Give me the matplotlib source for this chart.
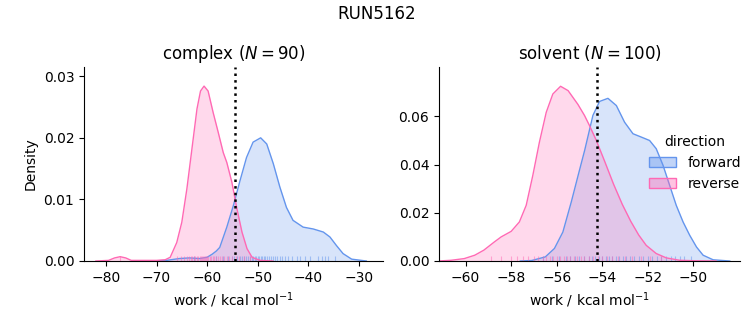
import matplotlib
matplotlib.use("Agg")
import matplotlib.pyplot as plt
from matplotlib.patches import Patch
import numpy as np

# ---------------- data ----------------
directions = ["forward", "reverse"]
colors = {"forward": "#6495ED", "reverse": "#FF69B4"}

# complex: KDE curves (work, density)
complex_fwd_x = [-71, -68, -65.5, -63.5, -61.5, -60, -59, -58.2, -57.5, -56.1, -54.8, -53.5,
                 -52.2, -50.9, -49.4, -48.2, -46.9, -45.6, -44.3, -43.0, -41.0, -39.0, -37.0,
                 -35.7, -34.4, -33.1, -31.4, -28.5]
complex_fwd_d = [0, 0.0001, 0.0004, 0.0005, 0.0004, 0.0006, 0.0011, 0.0016, 0.0022, 0.0055,
                 0.0090, 0.0130, 0.0168, 0.0193, 0.0200, 0.0190, 0.0158, 0.0120, 0.0087, 0.0066,
                 0.0055, 0.0052, 0.0047, 0.0039, 0.0025, 0.0012, 0.0003, 0]
complex_rev_x = [-82.0, -79.5, -78.3, -77.2, -76.1, -75.0, -73.0, -70.0, -68.3, -67.3, -66.0,
                 -65.0, -64.0, -63.0, -62.0, -61.3, -60.6, -59.8, -58.8, -57.8, -56.8, -56.1,
                 -55.1, -54.1, -53.1, -52.1, -51.1, -49.5, -47.0]
complex_rev_d = [0, 0.0001, 0.0005, 0.0007, 0.0005, 0.0001, 0.0001, 0.0001, 0.0002, 0.0006,
                 0.0030, 0.0063, 0.0117, 0.0182, 0.0247, 0.0276, 0.0284, 0.0276, 0.0241, 0.0209,
                 0.0176, 0.0160, 0.0128, 0.0085, 0.0047, 0.0020, 0.0006, 0.0001, 0]

# solvent: KDE curves
solvent_fwd_x = [-57.6, -57.1, -56.5, -56.1, -55.73, -55.36, -55.06, -54.77, -54.41, -54.12,
                 -53.75, -53.38, -53.02, -52.65, -52.28, -51.92, -51.63, -51.33, -51.04, -50.75,
                 -50.45, -50.16, -49.86, -49.57, -49.13, -48.4]
solvent_fwd_d = [0, 0.0002, 0.0017, 0.0052, 0.0120, 0.0245, 0.0355, 0.0460, 0.0604, 0.0662,
                 0.0675, 0.0645, 0.0576, 0.0528, 0.0514, 0.0500, 0.0466, 0.0397, 0.0314, 0.0231,
                 0.0162, 0.0107, 0.0058, 0.0024, 0.0005, 0]
solvent_rev_x = [-61.2, -60.64, -60.06, -59.6, -59.2, -58.74, -58.44, -58.0, -57.64, -57.34,
                 -57.05, -56.76, -56.46, -56.17, -55.83, -55.5, -55.07, -54.78, -54.55, -54.26,
                 -53.9, -53.5, -53.12, -52.75, -52.4, -52.07, -51.63, -51.19, -50.6, -49.9, -49.0]
solvent_rev_d = [0, 0.0003, 0.0010, 0.0024, 0.0045, 0.0079, 0.0100, 0.0123, 0.0162, 0.0231,
                 0.0355, 0.0493, 0.0617, 0.0693, 0.0725, 0.0707, 0.0650, 0.0604, 0.0560, 0.0500,
                 0.0415, 0.0318, 0.0235, 0.0165, 0.0108, 0.0065, 0.0031, 0.0013, 0.0003, 0.0001, 0]

# rug samples
complex_fwd_rug = [-62.5, -58.3, -56.9, -55.8, -55.1, -54.6, -54.0, -53.5, -53.1, -52.7, -52.3,
                   -51.9, -51.5, -51.2, -50.9, -50.6, -50.3, -50.0, -49.7, -49.4, -49.1, -48.8,
                   -48.5, -48.1, -47.8, -47.4, -47.0, -46.6, -46.1, -45.6, -45.2, -44.5, -43.9,
                   -43.2, -42.2, -41.6, -40.6, -39.6, -38.0, -37.3, -36.6, -36.0, -34.7]
complex_rev_rug = [-77.2, -65.9, -65.1, -64.5, -64.0, -63.6, -63.2, -62.9, -62.6, -62.3, -62.0,
                   -61.8, -61.5, -61.3, -61.0, -60.8, -60.6, -60.4, -60.2, -60.0, -59.8, -59.5,
                   -59.2, -58.9, -58.6, -58.2, -57.8, -57.4, -57.0, -56.6, -56.1, -55.6, -55.0,
                   -54.3, -53.6, -52.7, -51.6]
solvent_fwd_rug = [-56.6, -56.2, -55.9, -55.6, -55.4, -55.2, -55.0, -54.8, -54.6, -54.45, -54.3,
                   -54.15, -54.0, -53.85, -53.7, -53.55, -53.4, -53.25, -53.1, -52.95, -52.8,
                   -52.6, -52.4, -52.2, -52.0, -51.8, -51.6, -51.4, -51.2, -51.0, -50.8, -50.6,
                   -50.4, -50.1]
solvent_rev_rug = [-58.87, -58.43, -57.99, -57.74, -57.48, -57.26, -57.0, -56.8, -56.6, -56.45,
                   -56.3, -56.15, -56.0, -55.85, -55.7, -55.55, -55.4, -55.25, -55.1, -54.95,
                   -54.8, -54.6, -54.4, -54.2, -54.0, -53.8, -53.55, -53.3, -53.0, -52.7, -52.3,
                   -51.9, -51.4]

complex_estimate = -54.45
solvent_estimate = -54.25
complex_n = 90
solvent_n = 100
run_name = "RUN5162"

# ---------------- plotting ----------------
fig = plt.figure(figsize=(7.53, 3.25), dpi=100)
ax1 = fig.add_axes([84 / 753, 64 / 325, 299 / 753, 194 / 325])
ax2 = fig.add_axes([439 / 753, 64 / 325, 301 / 753, 194 / 325])

panels = [
    (ax1, f"complex ($N = {complex_n}$)",
     {"forward": (complex_fwd_x, complex_fwd_d, complex_fwd_rug),
      "reverse": (complex_rev_x, complex_rev_d, complex_rev_rug)},
     complex_estimate, (-84.35, -25.2), (0, 0.0315), np.arange(-80, -29, 10), [0, 0.01, 0.02, 0.03]),
    (ax2, f"solvent ($N = {solvent_n}$)",
     {"forward": (solvent_fwd_x, solvent_fwd_d, solvent_fwd_rug),
      "reverse": (solvent_rev_x, solvent_rev_d, solvent_rev_rug)},
     solvent_estimate, (-61.17, -47.95), (0, 0.0805), np.arange(-60, -49, 2), [0, 0.02, 0.04, 0.06]),
]

for ax, title, curves, est, xlim, ylim, xt, yt in panels:
    for d in directions:
        x, y, rug = curves[d]
        c = colors[d]
        ax.fill_between(x, y, 0, color=c, alpha=0.25, linewidth=0)
        ax.plot(x, y, color=c, lw=1.0, solid_joinstyle="round")
        ax.vlines(rug, 0, 0.025, transform=ax.get_xaxis_transform(), color=c, alpha=0.5, lw=0.8)
    ax.axvline(est, color="black", ls=":", lw=1.8)
    ax.set_xlim(*xlim)
    ax.set_ylim(*ylim)
    ax.set_xticks(xt)
    ax.set_yticks(yt)
    ax.set_title(title, fontsize=12)
    ax.set_xlabel("work / kcal mol$^{-1}$", fontsize=10)
    ax.spines["top"].set_visible(False)
    ax.spines["right"].set_visible(False)
    ax.tick_params(labelsize=10)

ax1.set_ylabel("Density", fontsize=10)

handles = [Patch(facecolor=matplotlib.colors.to_rgba(colors[d], 0.4),
                 edgecolor=colors[d], lw=1) for d in directions]
ax2.legend(handles, directions, title="direction", frameon=False, loc="center left",
           bbox_to_anchor=(0.655, 0.505), fontsize=10, title_fontsize=10)

fig.suptitle(run_name, fontsize=12, y=0.985)
fig.savefig("out.png", dpi=100)
